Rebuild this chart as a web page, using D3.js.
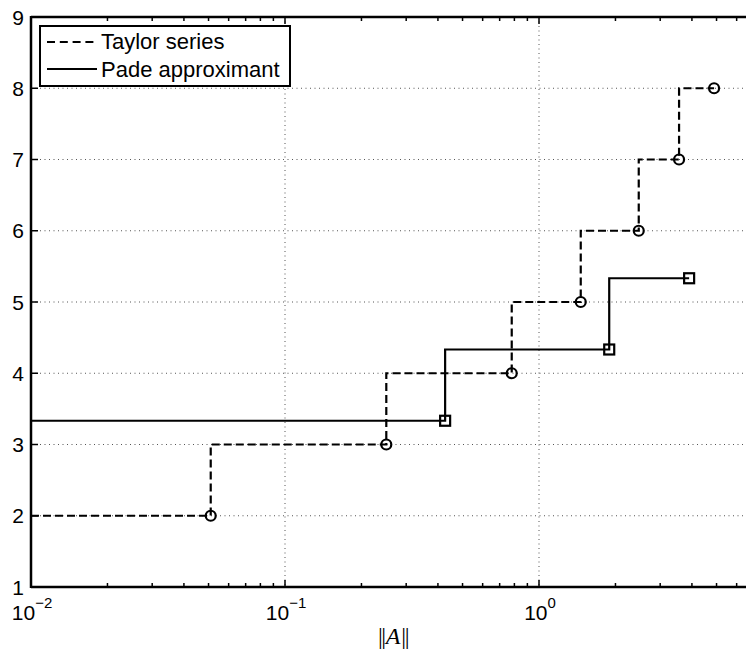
<!DOCTYPE html>
<html>
<head>
<meta charset="utf-8">
<script src="https://cdn.jsdelivr.net/npm/d3@7"></script>
<style>
  html, body { margin: 0; padding: 0; background: #fff; }
  svg { display: block; }
  text { font-family: "Liberation Sans", Arial, Helvetica, sans-serif; fill: #000; }
</style>
</head>
<body>
<svg id="chart" width="746" height="655"></svg>
<script>
// ---- data ----
const taylorX = [0.051, 0.2505, 0.781, 1.46, 2.47, 3.56, 4.89];
const taylorY = [2, 3, 4, 5, 6, 7, 8];
const padeX = [0.427, 1.89, 3.90];
const padeY = [10/3, 13/3, 16/3];
const xStart = 0.01;
const xDomain = [0.01, 10];
const yDomain = [1, 9];
const yTicks = [1, 2, 3, 4, 5, 6, 7, 8, 9];
const xMajorExp = [-2, -1, 0];
const legendLabels = ["Taylor series", "Pade approximant"];

// ---- layout ----
const L = 31, R = 793, T = 17, B = 587;
const svg = d3.select("#chart");
const x = d3.scaleLog().domain(xDomain).range([L, R]);
const y = d3.scaleLinear().domain(yDomain).range([B, T]);

// grid
const grid = svg.append("g").attr("stroke", "#555").attr("stroke-width", 1)
  .attr("stroke-dasharray", "1,3.5");
yTicks.filter(v => v > yDomain[0] && v < yDomain[1]).forEach(v => {
  grid.append("line").attr("x1", L).attr("x2", R).attr("y1", y(v)).attr("y2", y(v));
});
xMajorExp.map(e => Math.pow(10, e)).filter(v => v > xDomain[0] && v < xDomain[1]).forEach(v => {
  grid.append("line").attr("x1", x(v)).attr("x2", x(v)).attr("y1", T).attr("y2", B);
});

// stair paths
function stairs(xs, ys) {
  const pts = [[xStart, ys[0]]];
  xs.forEach((xv, i) => {
    pts.push([xv, ys[i]]);
    if (i < xs.length - 1) pts.push([xv, ys[i + 1]]);
  });
  return pts;
}
const line = d3.line().x(d => x(d[0])).y(d => y(d[1]));

svg.append("path").datum(stairs(taylorX, taylorY)).attr("d", line)
  .attr("fill", "none").attr("stroke", "#000").attr("stroke-width", 2.2)
  .attr("stroke-dasharray", "8,4");
svg.append("path").datum(stairs(padeX, padeY)).attr("d", line)
  .attr("fill", "none").attr("stroke", "#000").attr("stroke-width", 2.2);

// markers
svg.append("g").selectAll("circle").data(taylorX.map((v, i) => [v, taylorY[i]]))
  .join("circle").attr("cx", d => x(d[0])).attr("cy", d => y(d[1])).attr("r", 5)
  .attr("fill", "none").attr("stroke", "#000").attr("stroke-width", 2.2);
svg.append("g").selectAll("rect").data(padeX.map((v, i) => [v, padeY[i]]))
  .join("rect").attr("x", d => x(d[0]) - 5).attr("y", d => y(d[1]) - 5)
  .attr("width", 10).attr("height", 10)
  .attr("fill", "none").attr("stroke", "#000").attr("stroke-width", 2.2);

// axes box lines
const ax = svg.append("g").attr("stroke", "#000");
ax.append("line").attr("x1", L).attr("x2", R).attr("y1", B).attr("y2", B).attr("stroke-width", 2.5);
ax.append("line").attr("x1", L).attr("x2", R).attr("y1", T).attr("y2", T).attr("stroke-width", 2.5);
ax.append("line").attr("x1", L).attr("x2", L).attr("y1", T - 1).attr("y2", B + 1).attr("stroke-width", 2.5);
ax.append("line").attr("x1", R).attr("x2", R).attr("y1", T - 1).attr("y2", B + 1).attr("stroke-width", 2.5);

// x ticks (major + minor), inward, bottom and top
const xTickVals = [];
xMajorExp.forEach(e => { for (let k = 1; k <= 9; k++) xTickVals.push({ v: k * Math.pow(10, e), major: k === 1 }); });
xTickVals.push({ v: 10, major: true });
xTickVals.forEach(t => {
  const px = x(t.v);
  const len = t.major ? 7 : 4;
  ax.append("line").attr("x1", px).attr("x2", px).attr("y1", B).attr("y2", B - len).attr("stroke-width", 1.5);
  ax.append("line").attr("x1", px).attr("x2", px).attr("y1", T).attr("y2", T + len).attr("stroke-width", 1.5);
});
// y ticks
yTicks.forEach(v => {
  ax.append("line").attr("x1", L).attr("x2", L + 7).attr("y1", y(v)).attr("y2", y(v)).attr("stroke-width", 1.5);
  ax.append("line").attr("x1", R).attr("x2", R - 7).attr("y1", y(v)).attr("y2", y(v)).attr("stroke-width", 1.5);
});

// tick labels
svg.append("g").selectAll("text").data(yTicks).join("text")
  .attr("x", L - 7).attr("y", d => y(d)).attr("dy", "0.36em")
  .attr("text-anchor", "end").attr("font-size", 21).text(d => d);

const xl = svg.append("g").selectAll("text").data(xMajorExp).join("text")
  .attr("x", d => x(Math.pow(10, d)) + 1).attr("y", 620)
  .attr("text-anchor", "middle").attr("font-size", 21);
xl.append("tspan").text("10");
xl.append("tspan").attr("dy", -12).attr("font-size", 15).text(d => d === 0 ? "0" : "\u2212" + Math.abs(d));

// x label  ||A||
const lab = svg.append("text").attr("x", 393).attr("y", 644).attr("text-anchor", "middle")
  .attr("font-size", 24)
  .style("font-family", "'Liberation Serif', 'DejaVu Serif', serif").style("fill", "#000");
lab.append("tspan").attr("letter-spacing", -1.5).text("||");
lab.append("tspan").attr("font-style", "italic").attr("dx", 1).text("A");
lab.append("tspan").attr("letter-spacing", -1.5).attr("dx", 1).text("||");

// legend
const lg = svg.append("g");
lg.append("rect").attr("x", 40).attr("y", 26).attr("width", 250).attr("height", 60)
  .attr("fill", "#fff").attr("stroke", "#000").attr("stroke-width", 2);
lg.append("line").attr("x1", 47).attr("x2", 97).attr("y1", 42).attr("y2", 42)
  .attr("stroke", "#000").attr("stroke-width", 2.2).attr("stroke-dasharray", "8,4.8");
lg.append("line").attr("x1", 47).attr("x2", 97).attr("y1", 69).attr("y2", 69)
  .attr("stroke", "#000").attr("stroke-width", 2.2);
lg.selectAll("text").data(legendLabels).join("text")
  .attr("x", 101).attr("y", (d, i) => 49 + i * 28).attr("font-size", 22).text(d => d);
</script>
</body>
</html>
